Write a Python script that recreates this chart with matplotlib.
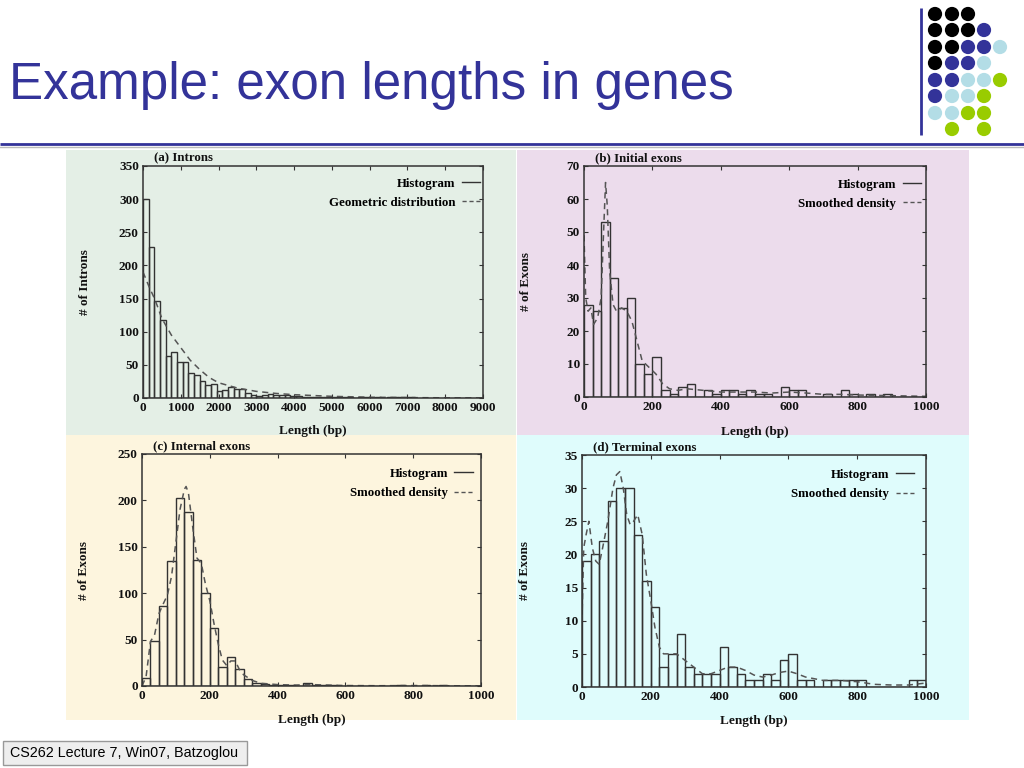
import matplotlib
matplotlib.use("Agg")
import matplotlib.pyplot as plt
from matplotlib.lines import Line2D
from matplotlib.patches import Rectangle
import numpy as np

# ---------------- data ----------------
# (a) Introns: 150 bp bins
intron_bin = 150
intron_counts = [300, 228, 146, 118, 64, 69, 54, 54, 37, 35, 26, 19, 21, 11, 12, 17,
                 14, 13, 8, 5, 3, 5, 6, 4, 5, 5, 3, 3, 2, 2, 1, 2, 1, 2, 1, 1,
                 1, 0, 1, 1, 0, 1, 0, 1, 1, 1, 1, 1]
geo_x = [0, 160, 320, 500, 750, 1000, 1250, 1500, 1750, 2000, 2500, 3000, 3500, 4000,
         5000, 6000, 7000, 8000, 9000]
geo_y = [190, 168, 148, 120, 95, 76, 57, 43, 31, 23, 15, 10, 7, 5, 2.5, 1.2, 0.6, 0.3, 0.1]

# (b) Initial exons: 25 bp bins
exon_bin = 25
initial_counts = [28, 26, 53, 36, 27, 30, 10, 7, 12, 2, 1, 3, 4, 0, 2, 1, 2, 2, 1, 2,
                  1, 1, 0, 3, 2, 2, 0, 0, 1, 0, 2, 1, 0, 1, 0, 1, 0, 0, 0, 0]
initial_sx = [0, 5, 12, 20, 28, 40, 50, 58, 63, 68, 75, 85, 95, 110, 125, 140, 155, 170,
              190, 210, 230, 250, 275, 300, 350, 400, 450, 500, 550, 600, 650, 700, 750,
              800, 850, 900, 950, 1000]
initial_sy = [49, 30, 26, 27, 22, 24, 30, 52, 65, 58, 38, 28, 26, 27, 26, 23, 17, 11,
              9, 7, 4, 2.5, 2, 2.5, 2, 1.5, 1.5, 1.5, 1.2, 1.5, 1.2, 0.8, 0.8,
              0.6, 0.5, 0.4, 0.3, 0.2]

# (c) Internal exons
internal_counts = [9, 48, 86, 135, 203, 188, 136, 100, 62, 20, 31, 18, 8, 3, 2, 1, 1, 1,
                   0, 3, 1, 1, 1, 0, 0, 0, 0, 0, 0, 0, 1, 0, 0, 1, 0, 1, 0, 0, 0, 0]
internal_sx = [0, 12, 25, 37, 50, 62, 75, 87, 100, 112, 125, 130, 137, 150, 162, 175, 187,
               200, 212, 225, 237, 250, 262, 275, 287, 300, 325, 350, 400, 450, 500, 550,
               600, 700, 800, 900, 1000]
internal_sy = [0, 10, 48, 55, 78, 88, 98, 118, 155, 190, 212, 215, 208, 170, 138, 132, 110,
               92, 68, 45, 28, 22, 27, 27, 18, 12, 6, 3, 1.5, 1, 1.5, 1, 0.5, 0.3, 0.5, 0.3, 0.1]

# (d) Terminal exons
terminal_counts = [19, 20, 22, 28, 30, 30, 23, 16, 12, 3, 5, 8, 3, 2, 2, 2, 6, 3, 2, 1,
                   1, 2, 1, 4, 5, 1, 1, 0, 1, 1, 1, 1, 1, 0, 0, 0, 0, 0, 1, 1]
terminal_sx = [0, 5, 12, 20, 30, 40, 50, 60, 75, 90, 100, 110, 120, 130, 140, 150, 162, 175,
               187, 200, 212, 225, 237, 250, 275, 300, 325, 350, 375, 400, 425, 450, 475,
               500, 525, 550, 575, 600, 625, 650, 700, 750, 800, 850, 900, 950, 1000]
terminal_sy = [10, 21, 23, 25, 21, 19, 18.5, 21, 25, 30, 32, 32.5, 30, 26, 24.5, 25, 26, 23,
               17, 13, 9, 6, 5, 5, 5, 4, 3, 2, 2, 2.5, 3, 3, 2.5, 1.8, 1.5, 1.8, 2.2, 2.4,
               2, 1.5, 1, 1, 0.8, 0.4, 0.3, 0.3, 0.6]

panel_titles = ["(a) Introns", "(b) Initial exons", "(c) Internal exons", "(d) Terminal exons"]
ylabels = ["# of Introns", "# of Exons", "# of Exons", "# of Exons"]
curve_labels = ["Geometric distribution", "Smoothed density", "Smoothed density", "Smoothed density"]

# ---------------- figure ----------------
W, H = 1024, 768
fig = plt.figure(figsize=(W / 100, H / 100), dpi=100)
fig.patch.set_facecolor("white")

bg = fig.add_axes([0, 0, 1, 1], zorder=0)
bg.set_xlim(0, W)
bg.set_ylim(H, 0)
bg.axis("off")

TITLE_BLUE = "#333399"
bg.text(9, 86, "Example: exon lengths in genes", fontsize=36.8, color=TITLE_BLUE,
        family="Liberation Sans", va="center", ha="left")
bg.plot([0, W], [144, 144], color=TITLE_BLUE, lw=2, solid_capstyle="butt")
bg.plot([0, W], [147, 147], color="#bbbbbb", lw=1)
bg.plot([921, 921], [8, 135], color=TITLE_BLUE, lw=2, solid_capstyle="butt")

# decorative dot grid
K, B, L, G = "#000000", "#333399", "#b3dde6", "#99cc00"
dot_rows = [
    [K, K, K, None, None],
    [K, K, K, B, None],
    [K, K, B, B, L],
    [K, B, B, L, None],
    [B, B, L, L, G],
    [B, L, L, G, None],
    [L, L, G, G, None],
    [None, G, None, G, None],
]
col_x = [935, 952, 968, 984, 1000]
row_y = [14, 30, 47, 63, 80, 96, 113, 129]
for r, row in enumerate(dot_rows):
    for c, col in enumerate(row):
        if col:
            bg.scatter([col_x[c]], [row_y[r]], s=105, color=col, edgecolors="none")

# panel backgrounds
panel_bg = [(66, 150, 516, 435, "#e4efe6"), (517, 150, 969, 435, "#ecdcec"),
            (66, 435, 516, 720, "#fdf5de"), (517, 435, 969, 720, "#dffcfc")]
for l, t, r, b, col in panel_bg:
    bg.add_patch(Rectangle((l, t), r - l, b - t, facecolor=col, edgecolor="none"))

# footer
bg.add_patch(Rectangle((3, 741), 244, 24, facecolor="#eeeeee", edgecolor="#999999", lw=1))
bg.text(10, 753, "CS262 Lecture 7, Win07, Batzoglou", fontsize=10.3, family="Liberation Sans",
        va="center", ha="left", color="black")

# ---------------- panels ----------------
INK = "#333333"
SERIF = "Liberation Serif"

def px_axes(l, t, r, b):
    ax = fig.add_axes([l / W, 1 - b / H, (r - l) / W, (b - t) / H], zorder=2)
    ax.patch.set_alpha(0)
    return ax

panels = [
    dict(box=(143, 166, 483, 398), counts=intron_counts, bw=intron_bin, sx=geo_x, sy=geo_y,
         xlim=9000, xstep=1000, ylim=350, ystep=50, leg=(0.992, 0.95), ylab_x=-0.153, xlab_y=-0.118),
    dict(box=(584, 166, 926, 397), counts=initial_counts, bw=exon_bin, sx=initial_sx, sy=initial_sy,
         xlim=1000, xstep=200, ylim=70, ystep=10, leg=(0.985, 0.945), ylab_x=-0.152, xlab_y=-0.126),
    dict(box=(142, 454, 481, 686), counts=internal_counts, bw=exon_bin, sx=internal_sx, sy=internal_sy,
         xlim=1000, xstep=200, ylim=250, ystep=50, leg=(0.975, 0.94), ylab_x=-0.153, xlab_y=-0.12),
    dict(box=(582, 455, 926, 687), counts=terminal_counts, bw=exon_bin, sx=terminal_sx, sy=terminal_sy,
         xlim=1000, xstep=200, ylim=35, ystep=5, leg=(0.965, 0.94), ylab_x=-0.148, xlab_y=-0.12),
]

for i, p in enumerate(panels):
    ax = px_axes(*p["box"])
    counts = np.array(p["counts"], dtype=float)
    edges = np.arange(len(counts)) * p["bw"]
    ax.bar(edges, counts, width=p["bw"], align="edge", fill=False, edgecolor=INK, linewidth=1.0)
    ax.plot(p["sx"], p["sy"], color="#555555", lw=1.1, ls=(0, (4, 3)))
    ax.set_xlim(0, p["xlim"])
    ax.set_ylim(0, p["ylim"])
    ax.set_xticks(np.arange(0, p["xlim"] + 1, p["xstep"]))
    ax.set_yticks(np.arange(0, p["ylim"] + 1, p["ystep"]))
    ax.tick_params(direction="in", top=True, right=True, length=3, width=0.8, color=INK,
                   labelsize=9.5, pad=3, labelcolor="#111111")
    for lab in ax.get_xticklabels() + ax.get_yticklabels():
        lab.set_fontfamily(SERIF)
        lab.set_fontweight("bold")
    for s in ax.spines.values():
        s.set_color(INK)
        s.set_linewidth(1.1)
    ax.set_xlabel("Length (bp)", fontsize=9.5, family=SERIF, weight="bold", color="#111111")
    ax.xaxis.set_label_coords(0.5, p["xlab_y"])
    ax.set_ylabel(ylabels[i], fontsize=9.5, family=SERIF, weight="bold", color="#111111")
    ax.yaxis.set_label_coords(p["ylab_x"], 0.5)
    ax.text(0.032, 1.008, panel_titles[i], transform=ax.transAxes, fontsize=9.3, family=SERIF,
            weight="bold", ha="left", va="bottom", color="#111111")
    handles = [Line2D([], [], color=INK, lw=1.0),
               Line2D([], [], color="#555555", lw=1.0, ls=(0, (3, 2)))]
    ax.legend(handles, ["Histogram", curve_labels[i]], loc="upper right",
              bbox_to_anchor=p["leg"], markerfirst=False, frameon=False,
              prop=dict(family=SERIF, weight="bold", size=9.3), handlelength=1.4,
              handletextpad=0.5, labelspacing=0.55, borderpad=0, borderaxespad=0)

fig.savefig("out.png", dpi=100)
